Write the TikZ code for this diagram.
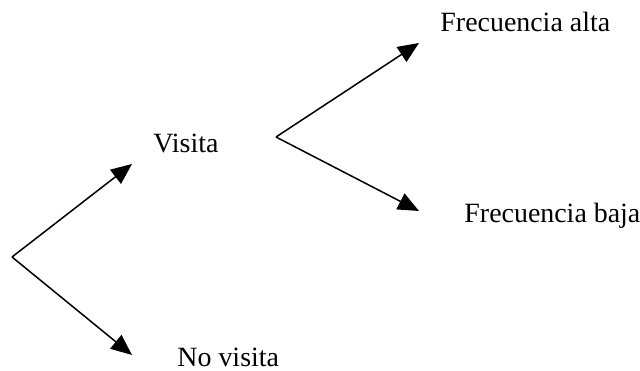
\documentclass[tikz,border=0pt]{standalone}
\usepackage{fontspec}
\setmainfont{Liberation Serif}
\usetikzlibrary{arrows.meta}

\begin{document}
\begin{tikzpicture}[x=0.43pt, y=-0.43pt,
		Label/.style={inner sep=0pt, anchor=base west, font=\fontsize{12}{14}\selectfont},
		Branch/.style={-{Triangle[length=9pt, width=7.6pt]}, line width=0.65pt}]
		\useasboundingbox (0,0) rectangle (640,371);
		% split points
		\coordinate (root) at (12,257);
		\coordinate (fork) at (276,137);
		% arrow ends
		\coordinate (visitaTip) at (132,164);
		\coordinate (noVisitaTip) at (132,355);
		\coordinate (altaTip) at (419,43);
		\coordinate (bajaTip) at (419,211);
		% labels
		\node[Label] (visita) at (153,153) {Visita};
		\node[Label] (noVisita) at (177,367) {No visita};
		\node[Label] (alta) at (440,32) {Frecuencia alta};
		\node[Label] (baja) at (464,223) {Frecuencia baja};
		\draw[Branch] (root) -- (visitaTip);
		\draw[Branch] (root) -- (noVisitaTip);
		\draw[Branch] (fork) -- (altaTip);
		\draw[Branch] (fork) -- (bajaTip);
	\end{tikzpicture}
\end{document}
